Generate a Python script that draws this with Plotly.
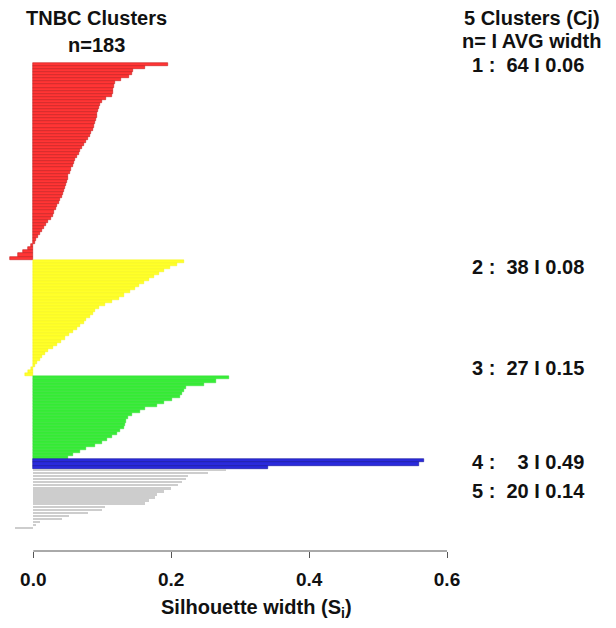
import plotly.graph_objects as go

# Silhouette widths per observation, sorted within each cluster
sil_c1 = [0.196, 0.162, 0.144, 0.143, 0.139, 0.127, 0.118, 0.117, 0.116, 0.115,
          0.114, 0.106, 0.099, 0.097, 0.096, 0.094, 0.093, 0.092, 0.091, 0.090,
          0.088, 0.086, 0.084, 0.082, 0.080, 0.077, 0.073, 0.070, 0.068, 0.066,
          0.063, 0.061, 0.059, 0.057, 0.055, 0.053, 0.051, 0.050, 0.049, 0.047,
          0.046, 0.045, 0.043, 0.041, 0.039, 0.037, 0.035, 0.033, 0.030, 0.028,
          0.025, 0.022, 0.019, 0.016, 0.013, 0.010, 0.007, 0.004, 0.002, -0.004,
          -0.008, -0.015, -0.022, -0.034]
sil_c2 = [0.218, 0.208, 0.198, 0.190, 0.182, 0.175, 0.168, 0.160, 0.154, 0.147,
          0.140, 0.132, 0.124, 0.114, 0.104, 0.095, 0.090, 0.086, 0.082, 0.077,
          0.073, 0.068, 0.063, 0.058, 0.052, 0.046, 0.040, 0.034, 0.028, 0.022,
          0.017, 0.012, 0.009, 0.006, 0.003, -0.004, -0.008, -0.012]
sil_c3 = [0.284, 0.265, 0.247, 0.222, 0.218, 0.215, 0.213, 0.201, 0.189, 0.179,
          0.162, 0.155, 0.143, 0.138, 0.134, 0.133, 0.131, 0.126, 0.121, 0.114,
          0.107, 0.099, 0.089, 0.077, 0.068, 0.058, 0.051]
sil_c4 = [0.567, 0.559, 0.340]
sil_c5 = [0.279, 0.253, 0.225, 0.222, 0.216, 0.210, 0.200, 0.190, 0.180, 0.176,
          0.168, 0.162, 0.104, 0.099, 0.080, 0.052, 0.041, 0.010, 0.004, -0.026]

cluster_ids = [1, 2, 3, 4, 5]
cluster_sizes = [64, 38, 27, 3, 20]
cluster_avg = [0.06, 0.08, 0.15, 0.49, 0.14]
n_total = 183
tick_vals = [0.0, 0.2, 0.4, 0.6]
tick_text = ["0.0", "0.2", "0.4", "0.6"]

clusters = [sil_c1, sil_c2, sil_c3, sil_c4, sil_c5]
fills = ["#FF3535", "#FFFF2A", "#38EC38", "#2A2ADC", "#CDCDCD"]
edges = ["#C41E1E", "#F2F200", "#2CD82C", "#14149E", "#CDCDCD"]
bar_w = [1.0, 1.0, 1.0, 1.0, 0.62]
edge_w = [0.6, 0.4, 0.4, 0.6, 0]

FONT = "Liberation Sans, Arial, Helvetica, sans-serif"
W, H = 616, 628
ML, MR, MT, MB = 0, 20, 60, 77
PW, PH = W - ML - MR, H - MT - MB

fig = go.Figure()
start = 0
for vals, fc, ec, bw, ew in zip(clusters, fills, edges, bar_w, edge_w):
    pos = list(range(start, start + len(vals)))
    fig.add_trace(go.Bar(
        x=vals, y=pos, orientation="h", width=bw,
        marker=dict(color=fc, line=dict(color=ec, width=ew)),
        showlegend=False, hoverinfo="x",
    ))
    start += len(vals)


def px_x(xp):
    return (xp - ML) / PW


def px_y(yp):
    return (H - MB - yp) / PH


bold = dict(family=FONT, size=20, color="#111111", weight="bold")
ann = []
ann.append(dict(text="TNBC Clusters", x=px_x(96), y=px_y(18)))
ann.append(dict(text=f"n={n_total}", x=px_x(96), y=px_y(45)))
ann.append(dict(text="5 Clusters (Cj)", x=px_x(532), y=px_y(18)))
ann.append(dict(text="n=\u00a0I AVG width", x=px_x(531), y=px_y(41)))

label_y = [65, 267, 368, 462, 491]
for cid, n, avg, yp in zip(cluster_ids, cluster_sizes, cluster_avg, label_y):
    pad = "\u00a0\u00a0" * (2 - len(str(n)))
    txt = f"{cid} :\u00a0\u00a0{pad}{n} I {avg:.2f}"
    ann.append(dict(text=txt, x=px_x(470), y=px_y(yp), xanchor="left"))

ann.append(dict(text="Silhouette width (S<sub>i</sub>)", x=px_x(256), y=px_y(608)))

annotations = []
for a in ann:
    d = dict(xref="paper", yref="paper", showarrow=False, font=bold,
             xanchor="center", yanchor="middle")
    d.update(a)
    annotations.append(d)

fig.update_layout(
    width=W, height=H,
    margin=dict(l=ML, r=MR, t=MT, b=MB),
    paper_bgcolor="white", plot_bgcolor="white",
    bargap=0,
    annotations=annotations,
    shapes=[dict(type="line", xref="x", yref="paper", x0=0, x1=0.6, y0=0, y1=0,
                 line=dict(color="#555555", width=1))],
    xaxis=dict(range=[-0.0483, -0.0483 + PW / 689.5], showgrid=False, zeroline=False,
               showline=False, ticks="outside", ticklen=6, tickwidth=1, tickcolor="#555555",
               tickvals=tick_vals, ticktext=tick_text, ticklabelstandoff=5,
               tickfont=dict(family=FONT, size=19, color="#111111", weight="bold")),
    yaxis=dict(range=[-1.464 + PH / 3.073, -1.464], visible=False),
)

fig.write_html("out.html")
